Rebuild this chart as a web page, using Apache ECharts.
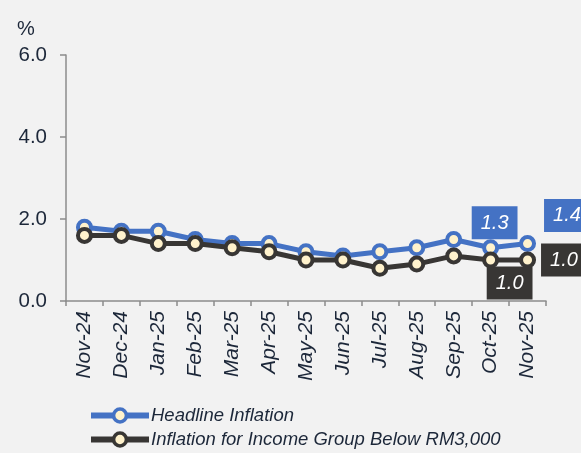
<!DOCTYPE html>
<html lang="en">
<head>
    <meta charset="UTF-8">
    <title>Headline Inflation vs Income Group Below RM3,000</title>
    <script src="https://cdn.jsdelivr.net/npm/echarts@6.0.0/dist/echarts.min.js"></script>
</head>
<body style="margin:0;background:#f2f2f2;">
    <div id="main" style="width: 581px; height: 453px;"></div>
    <script>
        const months = ['Nov-24', 'Dec-24', 'Jan-25', 'Feb-25', 'Mar-25', 'Apr-25', 'May-25',
            'Jun-25', 'Jul-25', 'Aug-25', 'Sep-25', 'Oct-25', 'Nov-25'];
        const headline = [1.8, 1.7, 1.7, 1.5, 1.4, 1.4, 1.2, 1.1, 1.2, 1.3, 1.5, 1.3, 1.4];
        const belowRM3000 = [1.6, 1.6, 1.4, 1.4, 1.3, 1.2, 1.0, 1.0, 0.8, 0.9, 1.1, 1.0, 1.0];
        const yTicks = [0, 2, 4, 6];

        const textColor = '#1c2739';
        const blue = '#4472c4';
        const dark = '#383634';
        const cream = '#fff2cc';
        const font = 'Liberation Sans, Arial';

        // value labels only on the last two months, placed like the original boxes
        function boxLabel(bg, position, distance, offset) {
            return {
                show: true,
                position: position,
                distance: distance,
                offset: offset,
                formatter: (p) => p.value.toFixed(1),
                backgroundColor: bg,
                color: '#fff',
                fontStyle: 'italic',
                fontFamily: font,
                fontSize: 20,
                padding: [7, 9, 6, 9]
            };
        }

        const headlineData = headline.map((v, i) => {
            if (i === 11) return { value: v, label: boxLabel(blue, 'top', 0, [4, 0]) };
            if (i === 12) return { value: v, label: boxLabel(blue, 'right', 8, [0, -28]) };
            return v;
        });
        const belowData = belowRM3000.map((v, i) => {
            if (i === 11) return { value: v, label: boxLabel(dark, 'bottom', -2, [19, 0]) };
            if (i === 12) return { value: v, label: boxLabel(dark, 'right', 5, [0, 0]) };
            return v;
        });

        const myChart = echarts.init(document.getElementById('main'));

        const options = {
            backgroundColor: '#f2f2f2',
            animation: false,
            title: {
                text: '%',
                left: 12,
                top: 14,
                textStyle: {
                    color: textColor,
                    fontSize: 20,
                    fontWeight: 'normal',
                    fontFamily: font
                }
            },
            grid: {
                left: 66,
                right: 35,
                top: 55,
                bottom: 152,
                containLabel: false
            },
            legend: {
                orient: 'vertical',
                left: 88,
                top: 406,
                height: 47,
                padding: 0,
                itemWidth: 58,
                itemHeight: 16,
                itemGap: 5,
                lineStyle: { width: 6 },
                itemStyle: { borderWidth: 3.5 },
                textStyle: {
                    color: textColor,
                    fontSize: 18.5,
                    lineHeight: 18,
                    fontStyle: 'italic',
                    fontFamily: font,
                    padding: [0, 0, 0, -3]
                },
                data: ['Headline Inflation', 'Inflation for Income Group Below RM3,000']
            },
            xAxis: {
                type: 'category',
                data: months,
                boundaryGap: true,
                axisLine: { lineStyle: { color: '#8c8c8c', width: 1.5 } },
                axisTick: { show: true, length: 5, lineStyle: { color: '#8c8c8c', width: 1.5 } },
                axisLabel: {
                    rotate: 90,
                    margin: 10,
                    color: textColor,
                    fontSize: 21,
                    fontStyle: 'italic',
                    fontFamily: font
                }
            },
            yAxis: {
                type: 'value',
                min: yTicks[0],
                max: yTicks[yTicks.length - 1],
                interval: 2,
                splitLine: { show: false },
                axisLine: { show: true, lineStyle: { color: '#8c8c8c', width: 1.5 } },
                axisTick: { show: true, length: 6, lineStyle: { color: '#8c8c8c', width: 1.5 } },
                axisLabel: {
                    margin: 19,
                    color: textColor,
                    fontSize: 20.5,
                    fontFamily: font,
                    formatter: (v) => v.toFixed(1)
                }
            },
            series: [
                {
                    name: 'Headline Inflation',
                    type: 'line',
                    data: headlineData,
                    symbol: 'circle',
                    symbolSize: 13,
                    lineStyle: { color: blue, width: 5 },
                    itemStyle: { color: cream, borderColor: blue, borderWidth: 4 },
                    z: 3
                },
                {
                    name: 'Inflation for Income Group Below RM3,000',
                    type: 'line',
                    data: belowData,
                    symbol: 'circle',
                    symbolSize: 13,
                    lineStyle: { color: dark, width: 5 },
                    itemStyle: { color: cream, borderColor: dark, borderWidth: 4 },
                    z: 4
                }
            ]
        };

        myChart.setOption(options);
    </script>
</body>
</html>
